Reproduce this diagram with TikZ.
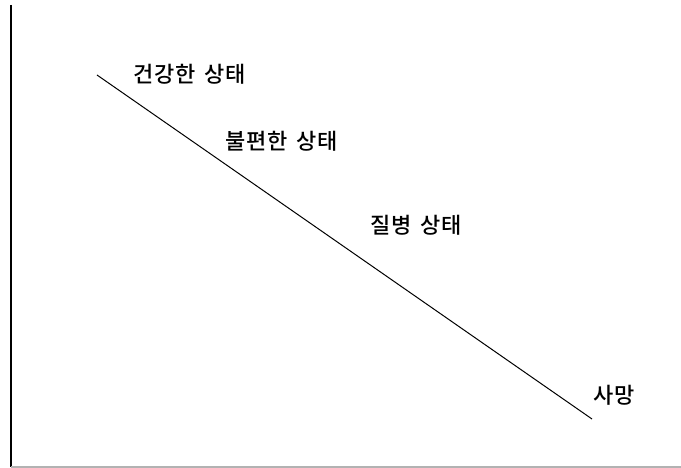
\documentclass[tikz,border=0pt]{standalone}
\usepackage{fontspec}
\newfontfamily\kr[LetterSpace=3,WordSpace=1.6]{Noto Sans CJK KR Medium}
\begin{document}
\begin{tikzpicture}[x=1pt,y=1pt,
  lbl/.style={font=\kr\fontsize{22}{26}\selectfont, inner sep=0pt, anchor=center},
  frameline/.style={line width=1.6pt, black},
  baseline/.style={line width=1.4pt, gray!60}]
\useasboundingbox (0,0) rectangle (681,468);
\coordinate (tl) at (11,463);
\coordinate (bl) at (11,1);
\coordinate (br) at (681,1);
\draw[frameline] (tl) -- (bl);
\draw[baseline] (bl) -- (br);
\coordinate (s) at (97,393);
\coordinate (e) at (592,49);
\draw[line width=1pt] (s) -- (e);
\node[lbl] (a) at (190,394) {건강한 상태};
\node[lbl] (b) at (282,327) {불편한 상태};
\node[lbl] (c) at (416,243) {질병 상태};
\node[lbl] (d) at (614,73) {사망};
\end{tikzpicture}
\end{document}
